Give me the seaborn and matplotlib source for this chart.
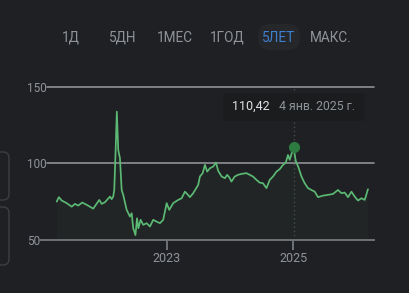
import matplotlib
matplotlib.use('Agg')
import matplotlib.pyplot as plt
import seaborn as sns
import pandas as pd
from matplotlib.patches import FancyBboxPatch

# ---------------- data ----------------
dates = [
    '2021-04-01', '2021-04-14', '2021-04-30', '2021-05-29', '2021-06-27', '2021-07-16',
    '2021-08-04', '2021-08-27', '2021-09-22', '2021-10-30', '2021-12-04', '2021-12-18',
    '2022-01-06', '2022-02-04', '2022-02-14', '2022-02-23', '2022-03-01', '2022-03-09',
    '2022-03-16', '2022-03-24', '2022-04-03', '2022-04-13', '2022-04-22', '2022-05-12',
    '2022-05-31', '2022-06-10', '2022-06-19', '2022-07-02', '2022-07-11', '2022-07-19',
    '2022-08-01', '2022-08-16', '2022-09-05', '2022-09-24', '2022-10-13', '2022-11-02',
    '2022-11-21', '2022-12-10', '2022-12-30', '2023-01-14', '2023-02-06', '2023-03-07',
    '2023-03-27', '2023-04-15', '2023-04-28', '2023-05-14', '2023-06-02', '2023-07-01',
    '2023-07-11', '2023-07-27', '2023-08-09', '2023-08-22', '2023-09-07', '2023-09-26',
    '2023-10-12', '2023-10-25', '2023-11-14', '2023-12-03', '2023-12-16', '2023-12-28',
    '2024-01-10', '2024-01-29', '2024-02-17', '2024-03-08', '2024-04-06', '2024-04-25',
    '2024-05-14', '2024-06-03', '2024-06-22', '2024-07-11', '2024-07-31', '2024-08-19',
    '2024-09-07', '2024-09-27', '2024-10-16', '2024-11-04', '2024-11-20', '2024-12-03',
    '2024-12-13', '2025-01-04', '2025-01-17', '2025-01-31', '2025-02-19', '2025-03-10',
    '2025-03-29', '2025-04-18', '2025-05-07', '2025-05-26', '2025-06-24', '2025-07-23',
    '2025-08-21', '2025-09-19', '2025-10-09', '2025-10-28', '2025-11-16', '2025-12-06',
    '2025-12-25', '2026-01-13', '2026-02-02', '2026-02-21', '2026-03-12',
]
values = [
    74.9, 77.8, 75.6, 73.9, 71.6, 73.4,
    72.3, 74.3, 72.8, 70.3, 76.0, 73.4,
    74.5, 78.2, 76.5, 78.2, 82.5, 108.7,
    133.7, 108.7, 103.3, 82.5, 79.3, 69.5,
    65.1, 67.3, 57.5, 53.0, 64.0, 57.5,
    63.0, 59.7, 60.8, 58.6, 63.0, 61.8,
    60.8, 63.0, 73.9, 69.5, 73.9, 76.0,
    77.1, 81.4, 79.9, 77.8, 80.4, 85.8,
    91.3, 93.5, 98.9, 94.5, 96.7, 97.8,
    100.4, 95.0, 91.3, 90.2, 92.4, 90.8,
    88.0, 91.3, 92.4, 93.0, 93.5, 92.4,
    91.3, 89.1, 87.3, 86.9, 83.7, 89.1,
    91.3, 94.5, 96.1, 98.9, 100.4, 105.4,
    102.2, 110.42, 101.5, 97.8, 91.3, 86.9,
    83.7, 82.5, 81.4, 77.8, 78.8, 79.3,
    79.9, 82.5, 80.4, 80.8, 77.8, 81.4,
    78.2, 75.6, 77.1, 76.0, 83.0,
]
tabs = ['1Д', '5ДН', '1МЕС', '1ГОД', '5ЛЕТ', 'МАКС.']
active_tab = '5ЛЕТ'
y_ticks = [50, 100, 150]
x_tick_dates = ['2023-01-01', '2025-01-01']
x_tick_labels = ['2023', '2025']
hover_date = '2025-01-04'
hover_value = 110.42
hover_value_text = '110,42'
hover_date_text = '4 янв. 2025 г.'

# ---------------- style ----------------
sns.set_theme(style='dark')
plt.rcParams['font.family'] = ['Roboto', 'DejaVu Sans']
bg = '#1f2023'
grey_txt = '#8f949a'
grid_col = '#8e9195'
green = '#5bb974'

W, H = 410, 293
fig = plt.figure(figsize=(W / 100, H / 100), dpi=100, facecolor=bg)

ax_left, ax_right, ax_top, ax_bot = 47, 374, 86.7, 239.7
ax = fig.add_axes([ax_left / W, 1 - ax_bot / H, (ax_right - ax_left) / W, (ax_bot - ax_top) / H])
ax.set_facecolor(bg)

df = pd.DataFrame({'date': pd.to_datetime(dates), 'value': values})
sns.lineplot(data=df, x='date', y='value', ax=ax, color=green, linewidth=1.25, zorder=4)
ax.fill_between(df['date'], df['value'], 50, color=green, alpha=0.035, lw=0, zorder=2)

days_per_px = 731 / 126
x0 = pd.Timestamp('2023-01-01') - pd.Timedelta(days=(167 - ax_left) * days_per_px)
x1 = pd.Timestamp('2025-01-01') + pd.Timedelta(days=(ax_right - 293) * days_per_px)
ax.set_xlim(x0, x1)
ax.set_ylim(50, 150)

for y in y_ticks[1:]:
    ax.axhline(y, color=grid_col, lw=1.2, zorder=1, clip_on=False)

for s in ['top', 'right', 'left']:
    ax.spines[s].set_visible(False)
ax.spines['bottom'].set_color('#6f7378')
ax.spines['bottom'].set_linewidth(1.4)

# y labels left-aligned at x ~ 27 px
ax.set_yticks(y_ticks)
ax.set_yticklabels([str(v) for v in y_ticks])
ax.tick_params(axis='y', length=0, pad=(ax_left - 27) * 72 / 100, labelcolor=grey_txt,
               labelsize=8.5, left=False)
for lbl in ax.get_yticklabels():
    lbl.set_horizontalalignment('left')

ax.set_xticks(pd.to_datetime(x_tick_dates))
ax.set_xticklabels(x_tick_labels)
ax.tick_params(axis='x', bottom=True, length=7, width=1.4, color='#6f7378', pad=2,
               labelcolor=grey_txt, labelsize=9)
ax.set_xlabel('')
ax.set_ylabel('')
ax.grid(False)

hd = pd.Timestamp(hover_date)
ax.axvline(hd, color='#46494d', lw=1, ls=(0, (1, 2)), zorder=1)
ax.plot([hd], [hover_value], 'o', ms=7, color='#2d7b41', zorder=6)

# ---------------- overlay in pixel coords ----------------
ov = fig.add_axes([0, 0, 1, 1])
ov.set_xlim(0, W)
ov.set_ylim(H, 0)
ov.axis('off')
ov.patch.set_alpha(0)
ov.set_zorder(5)

# tabs
tab_x = [71, 122.5, 175, 227, 279, 331]
ov.add_patch(FancyBboxPatch((258, 24), 42, 26, boxstyle='round,pad=0,rounding_size=12',
                            facecolor='#25272a', edgecolor='none'))
for t, x in zip(tabs, tab_x):
    ov.text(x, 37.5, t, ha='center', va='center', fontsize=9.8,
            color='#3f7fcf' if t == active_tab else grey_txt)

# tooltip
ov.add_patch(FancyBboxPatch((223, 93), 142, 28, boxstyle='round,pad=0,rounding_size=3',
                            facecolor='#1b1c1e', edgecolor='none'))
ov.text(232, 106, hover_value_text, ha='left', va='center', fontsize=9, color='#e0e2e6')
ov.text(279, 106, hover_date_text, ha='left', va='center', fontsize=8.8, color=grey_txt)

# left partial UI boxes
for top, bottom in [(152, 200), (207, 265)]:
    ov.add_patch(FancyBboxPatch((-20, top), 29, bottom - top, boxstyle='round,pad=0,rounding_size=6',
                                facecolor='none', edgecolor='#3c4043', lw=1))

# extension of base line after the "50" label
ov.plot([40, ax_left], [ax_bot, ax_bot], color='#6f7378', lw=1.4)

fig.savefig('out.png', dpi=100, facecolor=bg)
